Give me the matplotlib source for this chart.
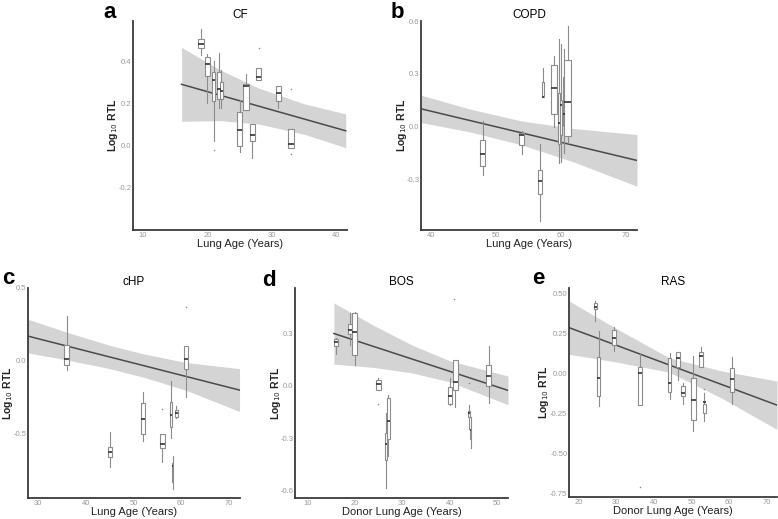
import matplotlib
matplotlib.use("Agg")
import matplotlib.pyplot as plt

plt.rcParams["font.family"] = ["Liberation Sans", "DejaVu Sans"]

# ---- panel a: CF ----
cf_pos = [19, 20, 21, 21.8, 22.2, 25, 26, 27, 28, 31, 33]
cf_wlo = [0.43, 0.20, 0.02, 0.18, 0.18, -0.03, 0.17, -0.06, 0.31, 0.18, -0.013]
cf_q1 = [0.46, 0.33, 0.21, 0.22, 0.22, 0.00, 0.17, 0.023, 0.31, 0.21, -0.013]
cf_med = [0.48, 0.386, 0.31, 0.27, 0.26, 0.074, 0.28, 0.05, 0.326, 0.25, 0.006]
cf_q3 = [0.504, 0.42, 0.35, 0.35, 0.30, 0.16, 0.29, 0.10, 0.365, 0.28, 0.08]
cf_whi = [0.55, 0.436, 0.40, 0.44, 0.36, 0.215, 0.34, 0.10, 0.365, 0.28, 0.08]
cf_w = [1.0, 0.8, 0.5, 0.5, 0.5, 0.9, 0.9, 0.8, 0.8, 0.8, 0.9]
cf_fly_x = [28, 33, 21, 33]
cf_fly_y = [0.46, 0.27, -0.02, -0.04]
cf_fit_x = [16, 41.5]
cf_fit_y = [0.29, 0.07]
cf_band_x = [16, 22, 28, 35, 41.5]
cf_band_lo = [0.115, 0.118, 0.102, 0.054, -0.01]
cf_band_hi = [0.465, 0.358, 0.272, 0.198, 0.15]

# ---- panel b: COPD ----
copd_pos = [48, 54, 56.9, 57.3, 59, 59.8, 60.1, 60.5, 61.1]
copd_wlo = [-0.275, -0.156, -0.54, 0.165, -0.004, -0.21, -0.20, -0.15, -0.095]
copd_q1 = [-0.224, -0.104, -0.383, 0.165, 0.072, -0.10, -0.05, 0.0, -0.053]
copd_med = [-0.16, -0.047, -0.313, 0.17, 0.218, 0.02, 0.12, 0.07, 0.14]
copd_q3 = [-0.08, -0.038, -0.247, 0.25, 0.347, 0.19, 0.15, 0.28, 0.38]
copd_whi = [0.028, -0.025, -0.10, 0.33, 0.40, 0.50, 0.47, 0.44, 0.57]
copd_w = [0.8, 0.8, 0.6, 0.4, 0.9, 0.3, 0.3, 0.3, 1.0]
copd_fit_x = [38.5, 71.8]
copd_fit_y = [0.10, -0.194]
copd_band_x = [38.5, 46, 54, 62, 71.8]
copd_band_lo = [0.022, -0.031, -0.105, -0.202, -0.341]
copd_band_hi = [0.178, 0.099, 0.031, -0.012, -0.047]

# ---- panel c: cHP ----
chp_pos = [36, 45, 52, 56, 57.9, 58.2, 59, 61]
chp_wlo = [-0.06, -0.73, -0.55, -0.69, -0.53, -0.88, -0.39, -0.25]
chp_q1 = [-0.028, -0.66, -0.50, -0.60, -0.45, -0.83, -0.385, -0.057]
chp_med = [0.011, -0.624, -0.40, -0.567, -0.37, -0.72, -0.36, 0.011]
chp_q3 = [0.11, -0.59, -0.29, -0.50, -0.28, -0.70, -0.34, 0.10]
chp_whi = [0.31, -0.49, -0.21, -0.50, -0.14, -0.65, -0.31, 0.10]
chp_w = [1.0, 0.8, 1.0, 1.0, 0.4, 0.3, 0.8, 1.0]
chp_fly_x = [61, 56]
chp_fly_y = [0.37, -0.33]
chp_fit_x = [27.9, 72.2]
chp_fit_y = [0.17, -0.20]
chp_band_x = [27.9, 36, 45, 52, 61, 72.2]
chp_band_lo = [0.055, 0.007, -0.053, -0.111, -0.201, -0.347]
chp_band_hi = [0.285, 0.197, 0.107, 0.049, -0.011, -0.053]

# ---- panel d: BOS ----
bos_pos = [16, 19, 20, 25, 26.6, 27.1, 40, 41.2, 44, 44.4, 48.2]
bos_wlo = [0.184, 0.235, 0.118, -0.025, -0.58, -0.40, -0.11, -0.12, -0.243, -0.357, -0.097]
bos_q1 = [0.23, 0.298, 0.178, -0.025, -0.42, -0.30, -0.104, -0.02, -0.176, -0.305, -0.002]
bos_med = [0.25, 0.32, 0.307, 0.013, -0.33, -0.20, -0.057, 0.023, -0.157, -0.25, 0.055]
bos_q3 = [0.27, 0.355, 0.417, 0.032, -0.27, -0.07, -0.006, 0.146, -0.14, -0.25, 0.118]
bos_whi = [0.275, 0.42, 0.425, 0.047, -0.157, -0.05, 0.045, 0.146, -0.11, -0.176, 0.226]
bos_w = [0.85, 1.0, 1.1, 0.85, 0.5, 0.5, 0.85, 1.1, 0.4, 0.4, 1.0]
bos_fly_x = [41, 44, 25]
bos_fly_y = [0.50, 0.02, -0.10]
bos_fit_x = [15.6, 52.3]
bos_fit_y = [0.30, -0.025]
bos_band_x = [15.6, 24, 32, 40, 52.3]
bos_band_lo = [0.125, 0.106, 0.075, 0.024, -0.107]
bos_band_hi = [0.475, 0.346, 0.235, 0.144, 0.057]

# ---- panel e: RAS ----
ras_pos = [24.5, 25.4, 29.4, 36.3, 44.2, 46.4, 47.7, 50.5, 52.5, 53.4, 60.8]
ras_wlo = [0.327, -0.208, 0.14, -0.198, -0.16, -0.04, -0.19, -0.365, 0.0375, -0.30, -0.19]
ras_q1 = [0.40, -0.14, 0.177, -0.198, -0.115, 0.0375, -0.14, -0.29, 0.0375, -0.25, -0.115]
ras_med = [0.417, -0.033, 0.223, 0.0, -0.062, 0.094, -0.125, -0.17, 0.108, -0.18, -0.0375]
ras_q3 = [0.44, 0.10, 0.27, 0.0375, 0.094, 0.13, -0.083, -0.03, 0.135, -0.19, 0.03]
ras_whi = [0.454, 0.267, 0.287, 0.119, 0.125, 0.13, -0.06, 0.11, 0.163, -0.125, 0.104]
ras_w = [0.9, 0.9, 0.9, 1.0, 0.7, 1.0, 1.0, 1.2, 1.0, 0.7, 1.0]
ras_fly_x = [36.3, 53.4]
ras_fly_y = [-0.71, -0.10]
ras_fit_x = [17.5, 72.7]
ras_fit_y = [0.285, -0.20]
ras_band_x = [17.5, 30, 44, 58, 72.7]
ras_band_lo = [0.118, 0.07, 0.007, -0.156, -0.352]
ras_band_hi = [0.452, 0.28, 0.097, 0.014, -0.049]

W, H = 778, 519
fig = plt.figure(figsize=(W / 100, H / 100), dpi=100)


def px_axes(x0, y0, x1, y1):
    return fig.add_axes([x0 / W, 1 - y1 / H, (x1 - x0) / W, (y1 - y0) / H])


def draw(ax, pos, wlo, q1, med, q3, whi, widths, fx, fy, bx, blo, bhi, flx=None, fly=None):
    ax.fill_between(bx, blo, bhi, color="#d4d4d4", lw=0, zorder=1)
    ax.plot(fx, fy, color="#4a4a4a", lw=1.1, zorder=2)
    stats = []
    for i in range(len(pos)):
        stats.append(dict(whislo=wlo[i], q1=q1[i], med=med[i], q3=q3[i],
                          whishi=whi[i], fliers=[]))
    ax.bxp(stats, positions=pos, widths=widths, patch_artist=True,
           showfliers=False, showcaps=False, manage_ticks=False, zorder=3,
           boxprops=dict(facecolor="white", edgecolor="#8c8c8c", lw=0.8),
           whiskerprops=dict(color="#8c8c8c", lw=0.8),
           medianprops=dict(color="#333333", lw=1.2))
    if flx:
        ax.scatter(flx, fly, s=1.2, color="#888888", zorder=3, lw=0)
    for s in ["top", "right"]:
        ax.spines[s].set_visible(False)
    for s in ["left", "bottom"]:
        ax.spines[s].set_color("#3a3a3a")
        ax.spines[s].set_linewidth(1.3)
    ax.tick_params(length=0, labelsize=5.5, labelcolor="#9a9a9a", pad=1.2)


def labels(ax, title, xlabel, letter, lx, ly, ylx):
    ax.set_title(title, fontsize=8.5, pad=2)
    ax.set_xlabel(xlabel, fontsize=8, color="#222222", labelpad=0)
    ax.set_ylabel("Log$_{10}$ RTL", fontsize=7.5, fontweight="bold", color="#222222",
                  va="center")
    ax.yaxis.set_label_coords(ylx, 0.5)
    fig.text(lx / W, 1 - ly / H, letter, fontsize=16, fontweight="bold",
             ha="center", va="center")


ax = px_axes(133, 21, 347, 230)
draw(ax, cf_pos, cf_wlo, cf_q1, cf_med, cf_q3, cf_whi, cf_w, cf_fit_x, cf_fit_y,
     cf_band_x, cf_band_lo, cf_band_hi, cf_fly_x, cf_fly_y)
ax.set_xlim(8.45, 41.7); ax.set_ylim(-0.4, 0.59)
ax.set_xticks([10, 20, 30, 40]); ax.set_yticks([-0.2, 0.0, 0.2, 0.4])
ax.set_yticklabels(["-0.2", "0.0", "0.2", "0.4"])
labels(ax, "CF", "Lung Age (Years)", "a", 110, 12, -0.093)

ax = px_axes(421, 21, 637, 230)
draw(ax, copd_pos, copd_wlo, copd_q1, copd_med, copd_q3, copd_whi, copd_w,
     copd_fit_x, copd_fit_y, copd_band_x, copd_band_lo, copd_band_hi)
ax.set_xlim(38.5, 71.8); ax.set_ylim(-0.59, 0.6)
ax.set_xticks([40, 50, 60, 70]); ax.set_yticks([-0.3, 0.0, 0.3, 0.6])
ax.set_yticklabels(["-0.3", "0.0", "0.3", "0.6"])
labels(ax, "COPD", "Lung Age (Years)", "b", 397, 12, -0.09)

ax = px_axes(28, 288, 240, 498)
draw(ax, chp_pos, chp_wlo, chp_q1, chp_med, chp_q3, chp_whi, chp_w,
     chp_fit_x, chp_fit_y, chp_band_x, chp_band_lo, chp_band_hi, chp_fly_x, chp_fly_y)
ax.set_xlim(27.9, 72.3); ax.set_ylim(-0.94, 0.5)
ax.set_xticks([30, 40, 50, 60, 70]); ax.set_yticks([-0.5, 0.0, 0.5])
ax.set_yticklabels(["-0.5", "0.0", "0.5"])
labels(ax, "cHP", "Lung Age (Years)", "c", 8, 279, -0.092)

ax = px_axes(295, 288, 508, 498)
draw(ax, bos_pos, bos_wlo, bos_q1, bos_med, bos_q3, bos_whi, bos_w,
     bos_fit_x, bos_fit_y, bos_band_x, bos_band_lo, bos_band_hi, bos_fly_x, bos_fly_y)
ax.set_xlim(7.4, 52.3); ax.set_ylim(-0.64, 0.56)
ax.set_xticks([10, 20, 30, 40, 50]); ax.set_yticks([-0.6, -0.3, 0.0, 0.3])
ax.set_yticklabels(["-0.6", "-0.3", "0.0", "0.3"])
labels(ax, "BOS", "Donor Lung Age (Years)", "d", 269, 280, -0.09)

ax = px_axes(569, 288, 777, 497)
draw(ax, ras_pos, ras_wlo, ras_q1, ras_med, ras_q3, ras_whi, ras_w,
     ras_fit_x, ras_fit_y, ras_band_x, ras_band_lo, ras_band_hi, ras_fly_x, ras_fly_y)
ax.set_xlim(17.5, 72.7); ax.set_ylim(-0.775, 0.533)
ax.set_xticks([20, 30, 40, 50, 60, 70])
ax.set_yticks([-0.75, -0.5, -0.25, 0.0, 0.25, 0.5])
ax.set_yticklabels(["-0.75", "-0.50", "-0.25", "0.00", "0.25", "0.50"])
labels(ax, "RAS", "Donor Lung Age (Years)", "e", 538, 278, -0.122)

fig.savefig("out.png", dpi=100)
